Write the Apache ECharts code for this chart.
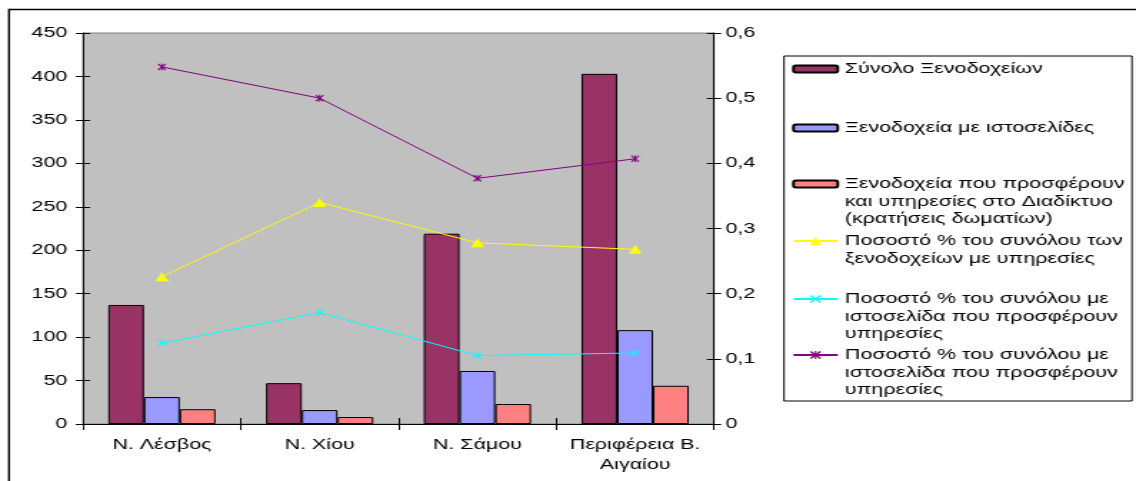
<!DOCTYPE html>
<html>
<head>
<meta charset="utf-8">
<script src="https://cdn.jsdelivr.net/npm/echarts@6/dist/echarts.min.js"></script>
<style>
html,body{margin:0;padding:0;background:#fff;overflow:hidden;width:1136px;height:481px;}
#c{width:795px;height:481px;transform:scaleX(1.4289);transform-origin:0 0;}
</style>
</head>
<body>
<div id="c"></div>
<script>
// ---- data ----
const categories = ['Ν. Λέσβος', 'Ν. Χίου', 'Ν. Σάμου', 'Περιφέρεια Β.\nΑιγαίου'];
const barNames = [
  'Σύνολο Ξενοδοχείων',
  'Ξενοδοχεία με ιστοσελίδες',
  'Ξενοδοχεία που προσφέρουν\nκαι υπηρεσίες στο Διαδίκτυο\n(κρατήσεις δωματίων)'
];
const lineNames = [
  'Ποσοστό % του συνόλου των\nξενοδοχείων με υπηρεσίες',
  'Ποσοστό % του συνόλου με\nιστοσελίδα που προσφέρουν\nυπηρεσίες',
  'Ποσοστό % του συνόλου με\nιστοσελίδα που προσφέρουν\nυπηρεσίες '
];
const totalHotels = [137, 47, 219, 403];
const hotelsWithSites = [31, 16, 61, 108];
const hotelsOnlineServices = [17, 8, 23, 44];
const pctTotalWithServices = [0.226, 0.340, 0.278, 0.268];
const pctWithSiteServicesA = [0.124, 0.171, 0.105, 0.109];
const pctWithSiteServicesB = [0.548, 0.500, 0.377, 0.407];
const leftTicks = {min: 0, max: 450, interval: 50};
const rightTicks = {min: 0, max: 0.6, interval: 0.1};

// ---- styling ----
const FONT = 'Liberation Sans';
const barColors = ['#993366', '#9999FF', '#FF8080'];
const lineColors = ['#FFFF00', '#00FFFF', '#800080'];
const X_SYM = 'path://M0,1.2L1.2,0L5,3.8L8.8,0L10,1.2L6.2,5L10,8.8L8.8,10L5,6.2L1.2,10L0,8.8L3.8,5Z';
const STAR_SYM = 'path://M0,1.2L1.2,0L5,3.8L8.8,0L10,1.2L6.2,5L10,8.8L8.8,10L5,6.2L1.2,10L0,8.8L3.8,5Z M4.3,0L5.7,0L5.7,10L4.3,10Z';
const lineSymbols = ['triangle', X_SYM, STAR_SYM];
const lineSymbolSizes = [[9, 9], [6, 7], [6, 7]];
const grid = {left: 58.1, right: 295.3, top: 33, bottom: 57};
const LH = 17.5;
const legendCenters = [69, 128, 184, 241, 299, 355];

const barData = [totalHotels, hotelsWithSites, hotelsOnlineServices];
const lineData = [pctTotalWithServices, pctWithSiteServicesA, pctWithSiteServicesB];

const series = [];
barNames.forEach((n, i) => series.push({
  name: n, type: 'bar', xAxisIndex: 0, yAxisIndex: 0,
  data: barData[i], barGap: '0%', barCategoryGap: '32%',
  itemStyle: {color: barColors[i], borderColor: '#000', borderWidth: 1},
  emphasis: {disabled: true}
}));
lineNames.forEach((n, i) => series.push({
  name: n, type: 'line', xAxisIndex: 0, yAxisIndex: 1,
  data: lineData[i], symbol: lineSymbols[i], symbolSize: lineSymbolSizes[i],
  showAllSymbol: true,
  lineStyle: {color: lineColors[i], width: 1},
  itemStyle: {color: lineColors[i]},
  emphasis: {disabled: true}
}));

const allNames = barNames.concat(lineNames);
const legends = allNames.map((n, i) => {
  const nLines = n.split('\n').length;
  const isBar = i < 3;
  return {
    show: true, orient: 'vertical', selectedMode: false,
    left: 554.3, top: legendCenters[i] - (2 * nLines - 1) * LH / 2,
    padding: 0, itemWidth: 31, itemHeight: isBar ? 7 : 10,
    data: [n],
    // blank lines above keep the icon level with the first text line
    formatter: (name) => '\n'.repeat(name.split('\n').length - 1) + name,
    textStyle: {fontFamily: FONT, fontSize: 15, color: '#000', lineHeight: LH}
  };
});

function rightFmt(v) {
  if (Math.abs(v) < 1e-9) return '0';
  return v.toFixed(1).replace('.', ',');
}

const axisLabelStyle = {fontFamily: FONT, fontSize: 15, color: '#000'};

const option = {
  animation: false,
  backgroundColor: '#fff',
  grid: [
    Object.assign({show: true, backgroundColor: '#C0C0C0', borderColor: '#808080', borderWidth: 1}, grid),
    Object.assign({show: false}, grid)
  ],
  legend: legends,
  xAxis: [
    {type: 'category', gridIndex: 0, data: categories, position: 'bottom',
      axisLine: {lineStyle: {color: '#000', width: 1}},
      axisTick: {show: true, length: 6, lineStyle: {color: '#000'}},
      axisLabel: Object.assign({margin: 11, lineHeight: 20, interval: 0}, axisLabelStyle),
      splitLine: {show: false}},
    {type: 'category', gridIndex: 1, data: categories, position: 'bottom',
      axisLine: {show: false},
      axisTick: {show: true, inside: true, length: 6, lineStyle: {color: '#000'}},
      axisLabel: {show: false}, splitLine: {show: false}}
  ],
  yAxis: [
    Object.assign({type: 'value', gridIndex: 0, position: 'left',
      axisLine: {show: true, lineStyle: {color: '#000', width: 1}},
      axisTick: {show: true, length: 5, lineStyle: {color: '#000'}},
      axisLabel: Object.assign({margin: 11}, axisLabelStyle),
      splitLine: {show: false}}, leftTicks),
    Object.assign({type: 'value', gridIndex: 0, position: 'right',
      axisLine: {show: true, lineStyle: {color: '#000', width: 1}},
      axisTick: {show: true, length: 5, lineStyle: {color: '#000'}},
      axisLabel: Object.assign({margin: 8, formatter: rightFmt}, axisLabelStyle),
      splitLine: {show: false}}, rightTicks),
    Object.assign({type: 'value', gridIndex: 1, position: 'left',
      axisLine: {show: false},
      axisTick: {show: true, inside: true, length: 5, lineStyle: {color: '#000'}},
      axisLabel: {show: false}, splitLine: {show: false}}, leftTicks),
    Object.assign({type: 'value', gridIndex: 1, position: 'right',
      axisLine: {show: false},
      axisTick: {show: true, inside: true, length: 5, lineStyle: {color: '#000'}},
      axisLabel: {show: false}, splitLine: {show: false}}, rightTicks)
  ],
  graphic: [
    {type: 'rect', z: -10, shape: {x: 6.3, y: 9.5, width: 2000, height: 2000},
      style: {fill: '#fff', stroke: '#000', lineWidth: 1.4}},
    {type: 'rect', z: -5, shape: {x: 548.7, y: 56, width: 243.5, height: 345},
      style: {fill: '#fff', stroke: '#000', lineWidth: 1}}
  ],
  series: series
};

const chart = echarts.init(document.getElementById('c'), null, {renderer: 'canvas'});
chart.setOption(option);
</script>
</body>
</html>
